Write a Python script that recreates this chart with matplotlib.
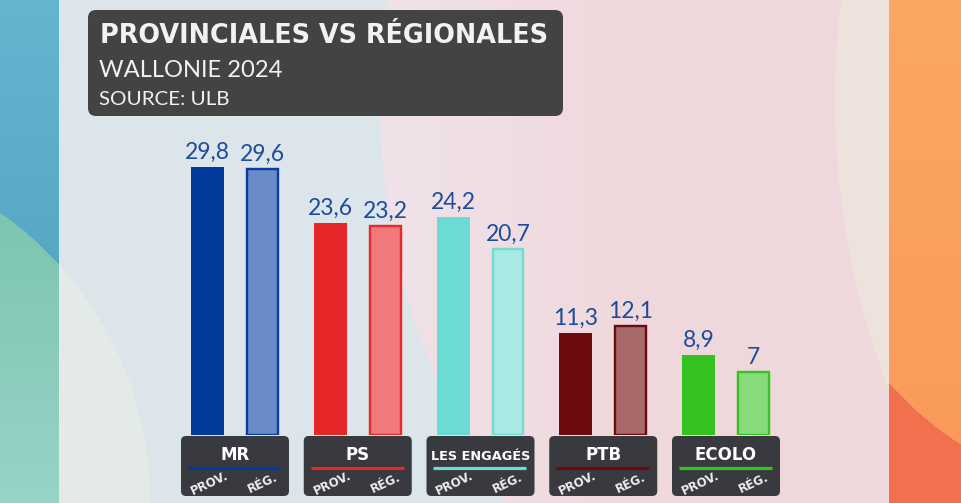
import numpy as np
import matplotlib
matplotlib.use("Agg")
import matplotlib.pyplot as plt
from matplotlib.patches import FancyBboxPatch

# ---------------- data ----------------
parties = ["MR", "PS", "LES ENGAGÉS", "PTB", "ECOLO"]
provinciales = [29.8, 23.6, 24.2, 11.3, 8.9]
regionales = [29.6, 23.2, 20.7, 12.1, 7.0]
prov_labels = ["29,8", "23,6", "24,2", "11,3", "8,9"]
reg_labels = ["29,6", "23,2", "20,7", "12,1", "7"]
prov_colors = ["#013a9b", "#e52729", "#6cdbd3", "#6c0a0f", "#34c220"]
reg_fill = ["#6a8ac8", "#f07a7b", "#a8e9e3", "#a86a6b", "#89dc7d"]
reg_edge = ["#0a3ca2", "#e8292b", "#70dcd4", "#6c0a0f", "#36c322"]
title = "PROVINCIALES VS RÉGIONALES"
subtitle = "WALLONIE 2024"
source = "SOURCE: ULB"
sub_labels = ["PROV.", "RÉG."]

W, H = 962, 503
fig = plt.figure(figsize=(W / 100, H / 100), dpi=100)

# ---------------- background ----------------
bg = fig.add_axes([0, 0, 1, 1])
bg.set_xlim(0, W)
bg.set_ylim(H, 0)
bg.axis("off")

xx, yy = np.meshgrid(np.arange(W) + 0.5, np.arange(H) + 0.5)
img = np.zeros((H, W, 3))

def hexc(h):
    h = h.lstrip("#")
    return np.array([int(h[i:i + 2], 16) / 255 for i in (0, 2, 4)])

def setc(mask, c):
    img[mask] = c

# panel base
panel = (xx >= 59) & (xx < 889)
setc(panel, hexc("#dce5e9"))
# lavender / pink big circle
big = panel & ((xx - 1100) ** 2 + (yy - 100) ** 2 < 720 ** 2)
t = np.clip((xx - 420) / 220, 0, 1)[..., None]
mix = (1 - t) * hexc("#efe1e7") + t * hexc("#efd8dc")
img[big] = mix[big]
# lower-left light arc
ll = panel & ((xx + 200) ** 2 + (yy - 500) ** 2 < 350 ** 2)
setc(ll, hexc("#e3eae8"))
# cream arc on the right
cr = panel & ((xx - 1641) ** 2 + (yy - 100) ** 2 < 806 ** 2)
setc(cr, hexc("#eee3dc"))

# left strip
left = xx < 59
tt = np.clip(yy / 300, 0, 1)[..., None]
blue = (1 - tt) * hexc("#64b5ce") + tt * hexc("#55a6c3")
img[left] = blue[left]
green_m = left & ((xx + 200) ** 2 + (yy - 500) ** 2 < 350 ** 2)
tg = np.clip((yy - 220) / 283, 0, 1)[..., None]
green = (1 - tg) * hexc("#7ec5b1") + tg * hexc("#98d3c8")
img[green_m] = green[green_m]

# right strip
right = xx >= 889
img[right] = hexc("#f3704f")
orm = right & ((xx - 1150) ** 2 + (yy - 150) ** 2 < 350 ** 2)
to = np.clip(yy / 450, 0, 1)[..., None]
orange = (1 - to) * hexc("#f9a862") + to * hexc("#fa9a5b")
img[orm] = orange[orm]

bg.imshow(img, extent=(0, W, H, 0), aspect="auto", zorder=0, interpolation="bilinear")

# ---------------- title box ----------------
bg.add_patch(FancyBboxPatch((88, 10), 475, 106,
                            boxstyle="round,pad=0,rounding_size=8",
                            fc="#444344", ec="none", zorder=2))
t1 = bg.text(100, 43, title, color="#f2f2f2", fontsize=24, fontweight="bold",
             family="DejaVu Sans", va="baseline", ha="left", zorder=3)
t2 = bg.text(99, 77, subtitle, color="#f2f2f2", fontsize=17,
             family="Lato", va="baseline", ha="left", zorder=3)
t3 = bg.text(99, 105, source, color="#f2f2f2", fontsize=14,
             family="Lato", va="baseline", ha="left", zorder=3)

fig.canvas.draw()
r = fig.canvas.get_renderer()
for txt, target in [(t1, 450), (t2, 184), (t3, 130)]:
    bb = txt.get_window_extent(r)
    txt.set_fontsize(txt.get_fontsize() * target / bb.width)

# ---------------- bars ----------------
spacing = 122.75
x0_px = 235
ax_left = x0_px - 0.5 * spacing
ax_w = 5 * spacing
ax_bottom_px = 435
ax_h = 270
ax = fig.add_axes([ax_left / W, (H - ax_bottom_px) / H, ax_w / W, ax_h / H])
ax.set_xlim(-0.5, 4.5)
ax.set_ylim(0, 30)
ax.axis("off")
ax.patch.set_alpha(0)

x = np.arange(len(parties))
off = 0.224
bw = 33 / spacing
lw_px = 2.4
ax.bar(x - off, provinciales, width=bw, color=prov_colors, zorder=2)
ax.bar(x + off, regionales, width=bw - lw_px / spacing, color=reg_fill,
       edgecolor=reg_edge, linewidth=lw_px * 0.72, zorder=2)

val_color = "#1d4c9c"
gap = 8 / 9.0
for i in range(len(parties)):
    ax.text(x[i] - off, provinciales[i] + gap, prov_labels[i], ha="center",
            va="baseline", fontsize=16.5, color=val_color, family="Lato", clip_on=False)
    ax.text(x[i] + off, regionales[i] + gap, reg_labels[i], ha="center",
            va="baseline", fontsize=16.5, color=val_color, family="Lato", clip_on=False)

# ---------------- category boxes ----------------
inv = bg.transData.inverted()
def px(xd):
    return inv.transform(ax.transData.transform((xd, 0)))[0]

for i, name in enumerate(parties):
    cx = px(x[i])
    bg.add_patch(FancyBboxPatch((cx - 54, 436), 108, 60,
                                boxstyle="round,pad=0,rounding_size=5",
                                fc="#383a3f", ec="none", zorder=4))
    nt = bg.text(cx, 460, name, ha="center", va="baseline", color="white",
                 fontsize=12, fontweight="bold", family="DejaVu Sans", zorder=5)
    if len(name) > 6:
        nt.set_fontsize(9.3)
    bg.plot([cx - 47, cx + 46], [467.5, 467.5], color=prov_colors[i],
            lw=2.3, solid_capstyle="butt", zorder=5)
    for j, s in enumerate(sub_labels):
        sx = px(x[i] + (-off if j == 0 else off)) + (2 if j == 0 else 0)
        bg.text(sx, 483, s, ha="center", va="center", color="#eeeeee",
                fontsize=8.6, fontweight="bold", family="DejaVu Sans",
                rotation=25, rotation_mode="anchor", zorder=5)

fig.savefig("out.png", dpi=100)
